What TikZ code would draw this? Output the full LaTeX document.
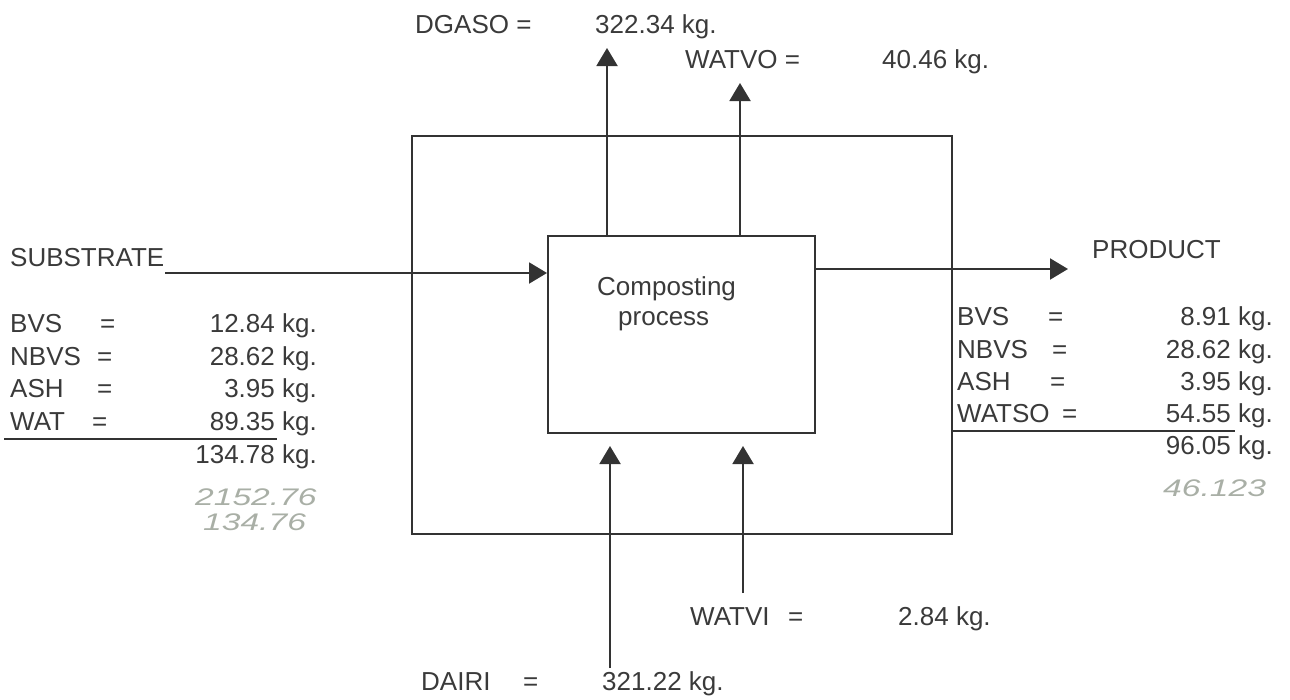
\documentclass[tikz,border=0pt]{standalone}
\usepackage{fontspec}
\setmainfont{Liberation Sans}
\usetikzlibrary{arrows.meta}
\definecolor{ink}{HTML}{3A3A3A}
\definecolor{line}{HTML}{333333}
\definecolor{pencil}{HTML}{A9AFA6}

\begin{document}
\begin{tikzpicture}[x=1pt,y=-1pt,
  txt/.style={inner sep=0pt,text=ink,font=\fontsize{26}{26}\selectfont},
  lft/.style={txt,anchor=base west},
  rgt/.style={txt,anchor=base east},
  box/.style={draw=line,line width=2pt,inner sep=0pt},
  flow/.style={draw=line,line width=2pt,-{Triangle[length=18pt,width=21pt]}},
  hand/.style={inner sep=0pt,text=pencil,font=\fontsize{24}{24}\itshape,anchor=base west}]
\useasboundingbox (0,0) rectangle (1290,699);
\node[box,minimum width=540pt,minimum height=398pt] (plant) at (682,335) {};
\node[box,minimum width=267pt,minimum height=197pt] (proc) at (681.5,334.5) {};
\node[lft] (proc1) at (597,295) {Composting};
\node[lft] (proc2) at (618,325) {process};
% free ends of the streams
\coordinate (sub) at (165,273);
\coordinate (prod) at (1068,269);
\coordinate (dgaso) at (607,48);
\coordinate (watvo) at (740,83);
\coordinate (dairi) at (610,668);
\coordinate (watvi) at (743,593);
\draw[flow] (sub) -- (sub -| proc.west);
\draw[flow] (proc.east |- prod) -- (prod);
\draw[flow] (dgaso |- proc.north) -- (dgaso);
\draw[flow] (watvo |- proc.north) -- (watvo);
\draw[flow,shorten >=12pt] (dairi) -- (dairi |- proc.south);
\draw[flow,shorten >=12pt] (watvi) -- (watvi |- proc.south);
% outlet gases
\node[lft] (dgasolbl) at (415,33) {DGASO =};
\node[lft] (dgasoval) at (595,33) {322.34 kg.};
\node[lft] (watvolbl) at (685,68) {WATVO =};
\node[lft] (watvoval) at (882,68) {40.46 kg.};
% substrate
\node[lft] (sublbl) at (10,266) {SUBSTRATE};
\foreach \n/\y/\e/\v in {bvs/332/100/12.84,nbvs/365/97/28.62,ash/397/97/3.95,wat/430/92/89.35} {
   \node[lft] (in\n) at (10,\y) {\MakeUppercase{\n}};
   \node[lft] (in\n eq) at (\e,\y) {=};
   \node[rgt] (in\n val) at (317,\y) {\v\ kg.};
}
\node[rgt] (intot) at (317,463) {134.78 kg.};
\draw[line,line width=2pt] (4,439) -- (277,439);
\node[hand] (note1) at (195,505) {\scalebox{1.4}[1]{2152.76}};
\node[hand] (note2) at (203,530) {\scalebox{1.4}[1]{134.76}};
% product
\node[lft] (prodlbl) at (1092,258) {PRODUCT};
\foreach \n/\y/\e/\v in {bvs/325/1048/8.91,nbvs/358/1052/28.62,ash/390/1050/3.95,watso/422/1062/54.55} {
   \node[lft] (out\n) at (957,\y) {\MakeUppercase{\n}};
   \node[lft] (out\n eq) at (\e,\y) {=};
   \node[rgt] (out\n val) at (1273,\y) {\v\ kg.};
}
\node[rgt] (outtot) at (1273,454) {96.05 kg.};
\draw[line,line width=2pt] (953,431) -- (1235,431);
\node[hand] (note3) at (1163,496) {\scalebox{1.4}[1]{46.123}};
% inlet air and water
\node[lft] (watvilbl) at (690,625) {WATVI};
\node[lft] (watvieq) at (788,625) {=};
\node[lft] (watvival) at (898,625) {2.84 kg.};
\node[lft] (dairilbl) at (421,690) {DAIRI};
\node[lft] (dairieq) at (523,690) {=};
\node[lft] (dairival) at (602,690) {321.22 kg.};
\end{tikzpicture}
\end{document}
